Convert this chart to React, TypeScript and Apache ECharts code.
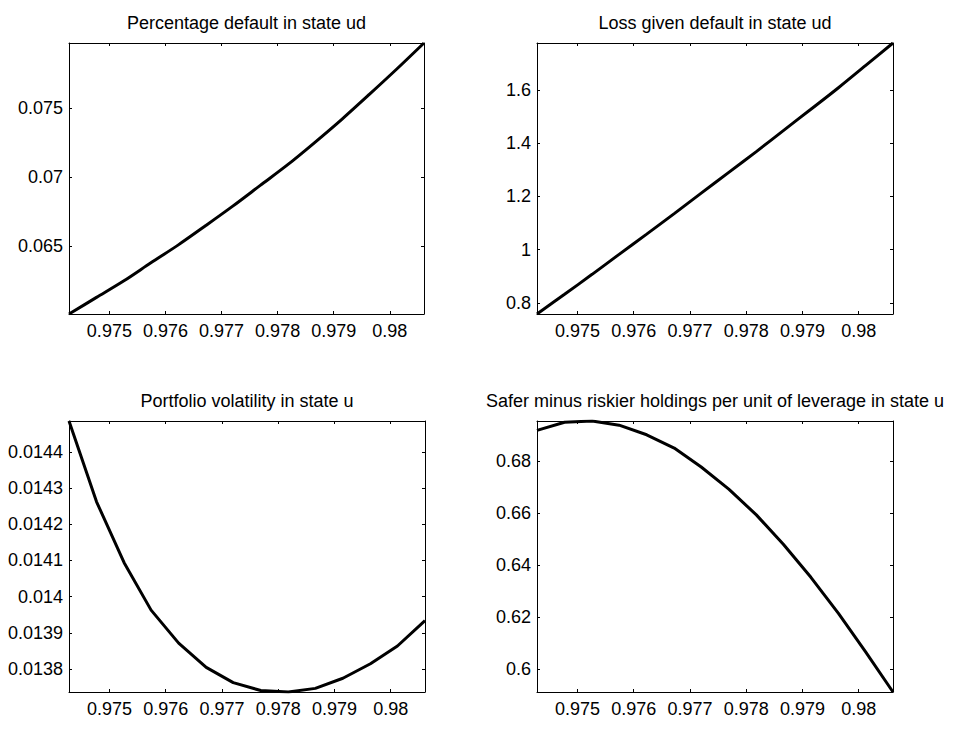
import React, { useEffect, useRef } from "react";
import * as echarts from "echarts";

// Shared x grid (discount factor values)
const xValues = [
  0.97428, 0.97477, 0.97526, 0.97574, 0.97623, 0.97672, 0.9772, 0.97769,
  0.97818, 0.97866, 0.97915, 0.97964, 0.98012, 0.98061,
];
const xTicks = [0.975, 0.976, 0.977, 0.978, 0.979, 0.98];

const titles = [
  "Percentage default in state ud",
  "Loss given default in state ud",
  "Portfolio volatility in state u",
  "Safer minus riskier holdings per unit of leverage in state u",
];

const pctDefaultUD = [
  0.0601, 0.0613, 0.0625, 0.0638, 0.0651, 0.0665, 0.0679, 0.0694, 0.0709,
  0.0725, 0.0742, 0.076, 0.0778, 0.0797,
];
const lossGivenDefaultUD = [
  0.758, 0.832, 0.907, 0.982, 1.058, 1.135, 1.212, 1.29, 1.368, 1.447, 1.527,
  1.608, 1.691, 1.776,
];
const portfolioVolU = [
  0.014485, 0.014262, 0.014094, 0.013963, 0.013872, 0.013805, 0.013763,
  0.013741, 0.013737, 0.013747, 0.013775, 0.013815, 0.013864, 0.013934,
];
const saferMinusRiskierU = [
  0.6917, 0.6948, 0.6953, 0.6937, 0.69, 0.6849, 0.6776, 0.6691, 0.6592,
  0.6479, 0.6352, 0.6213, 0.6066, 0.5911,
];

const yTicksPct = [0.065, 0.07, 0.075];
const yTicksLgd = [0.8, 1, 1.2, 1.4, 1.6];
const yTicksVol = [0.0138, 0.0139, 0.014, 0.0141, 0.0142, 0.0143, 0.0144];
const yTicksSafer = [0.6, 0.62, 0.64, 0.66, 0.68];

const FONT = "'Liberation Sans', Arial, Helvetica, sans-serif";

const fmt = (v: number) => String(parseFloat(Number(v).toFixed(6)));

export default function App() {
  const ref = useRef<HTMLDivElement>(null);

  useEffect(() => {
    if (!ref.current) return;
    const chart = echarts.init(ref.current, null, { renderer: "svg" });

    const panels = [
      { data: pctDefaultUD, yTicks: yTicksPct, smooth: true, grid: { left: 69, top: 43, width: 355, height: 271 } },
      { data: lossGivenDefaultUD, yTicks: yTicksLgd, smooth: true, grid: { left: 537, top: 43, width: 356, height: 271 } },
      { data: portfolioVolU, yTicks: yTicksVol, smooth: false, grid: { left: 69, top: 421, width: 356, height: 271 } },
      { data: saferMinusRiskierU, yTicks: yTicksSafer, smooth: false, grid: { left: 537, top: 421, width: 356, height: 271 } },
    ];

    const xMin = xValues[0];
    const xMax = xValues[xValues.length - 1];

    const axisLine = { show: true, onZero: false, lineStyle: { color: "#000", width: 1 } };
    const labelStyle = { color: "#000", fontSize: 18, fontFamily: FONT };

    const xAxis: any[] = [];
    const yAxis: any[] = [];
    const series: any[] = [];
    const graphic: any[] = [];

    panels.forEach((p, i) => {
      const yMin = Math.min(...p.data);
      const yMax = Math.max(...p.data);
      const tickX = { show: true, inside: true, length: 3, customValues: xTicks, lineStyle: { color: "#000", width: 1 } };
      const tickY = { show: true, inside: true, length: 3, customValues: p.yTicks, lineStyle: { color: "#000", width: 1 } };
      xAxis.push({
        type: "value", gridIndex: i, position: "bottom", min: xMin, max: xMax,
        axisLine, axisTick: tickX,
        axisLabel: { show: true, customValues: xTicks, formatter: fmt, margin: 8, hideOverlap: false, ...labelStyle },
        splitLine: { show: false },
      });
      xAxis.push({
        type: "value", gridIndex: i, position: "top", min: xMin, max: xMax,
        axisLine, axisTick: tickX, axisLabel: { show: false }, splitLine: { show: false },
      });
      yAxis.push({
        type: "value", gridIndex: i, position: "left", min: yMin, max: yMax,
        axisLine, axisTick: tickY,
        axisLabel: { show: true, customValues: p.yTicks, formatter: fmt, margin: 6, hideOverlap: false, ...labelStyle },
        splitLine: { show: false },
      });
      yAxis.push({
        type: "value", gridIndex: i, position: "right", min: yMin, max: yMax,
        axisLine, axisTick: tickY, axisLabel: { show: false }, splitLine: { show: false },
      });
      series.push({
        type: "line",
        xAxisIndex: 2 * i,
        yAxisIndex: 2 * i,
        data: xValues.map((x, k) => [x, p.data[k]]),
        showSymbol: false,
        symbol: "none",
        smooth: p.smooth ? 0.3 : false,
        lineStyle: { color: "#000", width: 3 },
        clip: true,
      });
      graphic.push({
        type: "text",
        x: p.grid.left + p.grid.width / 2,
        y: p.grid.top - 20,
        style: {
          text: titles[i],
          fill: "#000",
          fontSize: 18,
          fontFamily: FONT,
          align: "center",
          verticalAlign: "middle",
          textAlign: "center",
          textVerticalAlign: "middle",
        },
      });
    });

    chart.setOption({
      animation: false,
      backgroundColor: "#fff",
      grid: panels.map((p) => ({ ...p.grid, containLabel: false, show: false })),
      xAxis,
      yAxis,
      series,
      graphic,
    });

    return () => chart.dispose();
  }, []);

  return (
    <div
      ref={ref}
      style={{ position: "fixed", left: 0, top: 0, width: 953, height: 731, background: "#fff" }}
    />
  );
}
